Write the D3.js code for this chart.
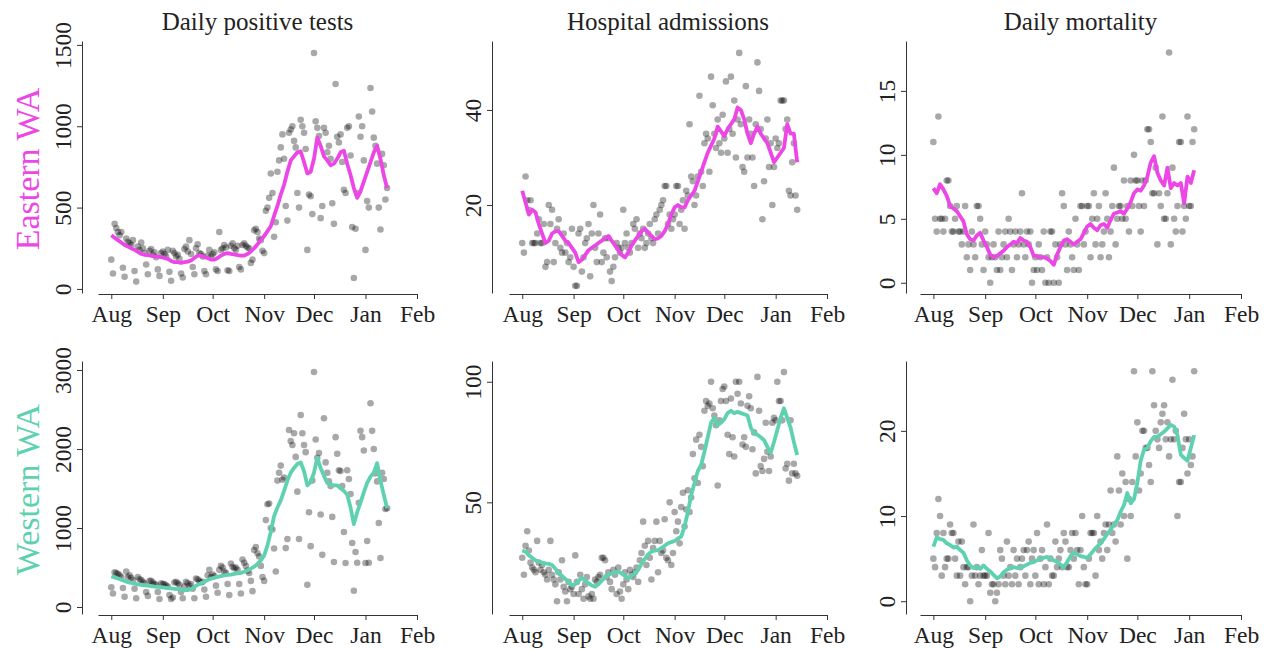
<!doctype html>
<head>
  <meta charset="utf-8">
  <script src="https://cdnjs.cloudflare.com/ajax/libs/d3/7.8.2/d3.min.js"></script>
</head>
<style>
    body { margin: 0; background: white; }
</style>
<body>
<div id="chart"></div>
<script>
    // Datos: un valor diario desde el 1 de agosto de 2020
    const eastTests = [
        180, 95, 400, 375, 350, 330, 350, 130, 75, 310, 290, 280, 270, 300, 110, 45, 260, 240, 285, 250, 220, 150, 90, 235, 245, 210, 225, 195, 120, 80, 220,
        230, 215, 200, 240, 105, 50, 235, 220, 200, 210, 185, 95, 70, 245, 260, 230, 300, 215, 135, 90, 250, 275, 220, 215, 200, 110, 90, 205, 240, 200,
        215, 225, 120, 110, 350, 240, 250, 270, 255, 115, 110, 265, 280, 250, 240, 265, 135, 120, 270, 280, 265, 255, 250, 160, 180, 360, 370, 350, 310, 300, 235,
        220, 480, 500, 560, 710, 590, 320, 410, 720, 790, 870, 950, 800, 510, 420, 960, 980, 1000, 910, 870, 590, 500, 1040, 1000, 960, 860, 240, 580, 570, 460,
        1450, 1030, 990, 940, 435, 510, 990, 960, 840, 880, 800, 527, 400, 1260, 935, 900, 950, 780, 610, 590, 990, 1000, 820, 380, 67, 370, 590, 1060, 935, 1000, 790,
        240, 540, 500, 1235, 1090, 930, 880, 770, 500, 365, 830, 760, 550, 620
    ];
    const eastAdmits = [
        12, 10, 26, 21, 19, 21, 12, 12, 12, 14, 17, 12, 12, 16, 7, 8, 20, 16, 19, 8, 12, 15, 17, 11, 10, 14, 10, 12, 8, 9, 15,
        7, 3, 3, 14, 15, 6, 9, 12, 13, 16, 5, 14, 20, 11, 8, 14, 18, 8, 10, 13, 9, 13, 6, 4, 7, 9, 12, 11, 10, 11,
        19, 12, 14, 11, 10, 12, 16, 15, 17, 11, 14, 13, 15, 11, 12, 14, 16, 13, 12, 17, 18, 14, 19, 20, 21, 24, 24, 16, 18, 15, 17,
        18, 24, 24, 16, 19, 21, 15, 23, 22, 37, 26, 25, 20, 22, 26, 43, 27, 24, 33, 35, 34, 27, 47, 41, 35, 32, 38, 33, 31, 39,
        34, 46, 31, 36, 47, 35, 42, 30, 38, 52, 37, 28, 27, 45, 30, 38, 35, 30, 24, 37, 50, 44, 36, 17, 25, 34, 38, 28, 33, 20, 28,
        34, 32, 33, 42, 42, 42, 36, 38, 23, 22, 29, 33, 22, 19
    ];
    const eastDeaths = [
        11, 5, 4, 13, 5, 5, 4, 5, 8, 8, 6, 4, 4, 5, 6, 4, 4, 3, 4, 6, 2, 3, 1, 4, 3, 2, 6, 6, 5, 3, 1,
        4, 3, 2, 0, 2, 3, 2, 1, 4, 1, 2, 3, 4, 2, 5, 4, 1, 3, 4, 2, 3, 4, 7, 3, 2, 4, 3, 4, 0, 1,
        2, 1, 3, 2, 1, 4, 0, 2, 0, 4, 4, 0, 3, 2, 0, 3, 7, 6, 3, 1, 4, 3, 2, 1, 5, 3, 1, 6, 6, 3, 4,
        6, 6, 2, 5, 7, 3, 5, 6, 2, 3, 4, 7, 5, 2, 4, 6, 9, 3, 5, 6, 6, 5, 8, 5, 6, 4, 8, 6, 10, 8,
        8, 6, 4, 8, 6, 8, 12, 12, 11, 7, 7, 9, 3, 7, 6, 13, 5, 5, 7, 18, 3, 9, 5, 4, 6, 11, 11, 4, 6, 5, 13,
        6, 6, 11, 12
    ];
    const westTests = [
        250, 170, 440, 430, 420, 400, 380, 240, 130, 450, 380, 400, 370, 340, 230, 110, 380, 350, 340, 320, 300, 190, 140, 330, 330, 310, 290, 280, 190, 100, 300,
        290, 290, 270, 260, 150, 100, 120, 310, 320, 300, 280, 190, 110, 260, 320, 300, 270, 290, 230, 110, 360, 350, 330, 310, 320, 220, 130, 400, 470, 380,
        410, 390, 270, 180, 470, 520, 500, 450, 430, 290, 150, 550, 510, 490, 500, 470, 290, 170, 600, 560, 520, 460, 430, 330, 200, 720, 760, 680, 640, 520, 380,
        330, 1100, 1300, 1310, 1000, 980, 740, 450, 1600, 1700, 1790, 1610, 1640, 745, 860, 2240, 2100, 2050, 2200, 1900, 1460, 860, 2430, 2200, 2050, 1960, 280, 1200, 770, 1600,
        2975, 2120, 1890, 1950, 1170, 660, 2390, 1830, 1700, 1590, 1530, 1140, 570, 2150, 1940, 1730, 1720, 1530, 950, 557, 1730, 1620, 1430, 810, 205, 696, 560, 1320, 2230, 2150, 1980,
        557, 835, 560, 2580, 2230, 2000, 1690, 1590, 1063, 620, 1700, 1620, 1240, 1250
    ];
    const westAdmits = [
        27, 20, 32, 38, 30, 25, 23, 22, 21, 34, 25, 22, 24, 21, 20, 18, 22, 34, 20, 18, 16, 9, 21, 18, 26, 15, 13, 9, 17, 14, 15,
        12, 28, 17, 12, 20, 14, 10, 16, 19, 11, 10, 12, 10, 18, 17, 19, 20, 27, 27, 26, 19, 21, 17, 14, 22, 20, 12, 23, 13, 10,
        16, 21, 18, 14, 22, 20, 19, 21, 23, 17, 26, 29, 42, 32, 24, 34, 27, 18, 31, 34, 42, 21, 34, 29, 30, 43, 27, 26, 50, 24, 29,
        46, 38, 42, 33, 48, 54, 40, 47, 55, 46, 52, 70, 60, 76, 58, 78, 73, 65, 88, 92, 90, 91, 100, 89, 86, 82, 57, 84, 92, 97,
        98, 92, 78, 70, 93, 77, 69, 100, 95, 100, 91, 74, 77, 73, 90, 94, 89, 72, 79, 62, 102, 88, 65, 63, 68, 83, 71, 63, 69, 83, 85,
        84, 100, 92, 92, 84, 104, 64, 66, 59, 84, 62, 66, 62, 61
    ];
    const westDeaths = [
        5, 4, 8, 12, 10, 3, 8, 4, 5, 5, 9, 8, 8, 5, 3, 7, 3, 7, 4, 2, 4, 4, 0, 3, 9, 3, 4, 2, 3, 6, 3,
        3, 3, 8, 1, 2, 2, 0, 1, 2, 6, 5, 3, 2, 7, 3, 4, 2, 6, 3, 5, 2, 4, 5, 6, 3, 6, 7, 2, 5, 6,
        3, 8, 2, 5, 6, 2, 4, 9, 2, 5, 3, 3, 7, 4, 5, 6, 4, 8, 7, 4, 4, 6, 8, 5, 8, 6, 2, 6, 10, 4, 2,
        2, 5, 8, 8, 8, 3, 10, 6, 7, 5, 8, 9, 6, 9, 13, 8, 9, 7, 17, 13, 9, 15, 10, 14, 5, 12, 10, 14, 27, 17,
        21, 13, 15, 20, 20, 18, 18, 16, 14, 27, 23, 20, 19, 18, 21, 22, 23, 19, 21, 17, 19, 26, 19, 20, 10, 14, 14, 18, 22, 19, 15,
        19, 16, 17, 27
    ];

    // Medias móviles: un valor cada dos días desde el 1 de agosto
    const eastTestsAvg = [330, 315, 300, 285, 270, 260, 250, 240, 228, 215, 210, 208, 205, 200, 198, 195, 190, 185, 172, 165, 165, 160, 165, 168, 175, 190, 205, 205, 195, 190, 180, 180, 190, 205, 215, 220, 215, 212, 208, 205, 205, 215, 230, 250, 275, 300, 325, 355, 385, 450, 510, 580, 640, 720, 790, 815, 840, 845, 780, 710, 720, 800, 930, 880, 815, 790, 760, 770, 800, 840, 850, 770, 700, 620, 560, 600, 660, 720, 780, 840, 880, 800, 700, 620];
    const eastAdmitsAvg = [23, 20.5, 18, 19, 18.5, 16, 14, 12, 12.5, 14, 14.5, 14.5, 13.5, 12.5, 12, 11, 10, 8, 8.5, 9.5, 10.5, 11, 11.5, 12, 12.5, 13, 13.5, 12.5, 11.5, 10.5, 9.5, 9, 10, 11.5, 12.5, 13.5, 14.5, 15, 14.2, 13.5, 12.8, 13, 13.5, 14.5, 16, 18, 19.5, 20, 19.5, 19.5, 21, 22, 23, 25, 27, 29, 31, 32.5, 34, 36.5, 35.5, 34.5, 36, 37, 38, 40.5, 40, 38, 35, 33, 35, 36.5, 35, 34, 33, 31, 29, 30, 31, 32, 37, 35, 35, 29];
    const eastDeathsAvg = [7.4, 7, 7.7, 7.3, 6.8, 6, 5.8, 5.6, 5.2, 4.8, 3.8, 3.4, 3.3, 3.7, 3.9, 3.3, 2.8, 2.2, 2, 2.1, 2.3, 2.5, 2.8, 3, 3.2, 3.1, 3.5, 3.3, 3.2, 2.8, 2.1, 2.1, 2, 2, 1.9, 1.7, 1.4, 2.2, 2.8, 3.3, 3.4, 3.2, 3, 3.2, 3.4, 3.9, 4.4, 4.6, 4.3, 4.1, 4.5, 4.6, 4.3, 4.9, 5.4, 5.5, 5.6, 5.4, 5.8, 6.3, 7, 7.3, 7.2, 7.6, 8.3, 9.4, 9.9, 8.6, 8, 7.6, 9, 7.4, 7.8, 7.6, 7.8, 6.2, 8.3, 7.8, 8.8];
    const westTestsAvg = [390, 375, 360, 345, 330, 315, 305, 295, 285, 280, 275, 270, 265, 258, 255, 250, 245, 240, 235, 230, 225, 220, 215, 212, 225, 255, 280, 300, 320, 340, 360, 370, 380, 390, 400, 405, 410, 420, 425, 430, 445, 465, 485, 510, 545, 590, 650, 780, 950, 1150, 1260, 1350, 1470, 1600, 1700, 1760, 1810, 1830, 1720, 1540, 1580, 1700, 1890, 1760, 1660, 1570, 1550, 1540, 1540, 1500, 1470, 1420, 1260, 1050, 1200, 1320, 1450, 1570, 1650, 1700, 1820, 1600, 1420, 1250];
    const westAdmitsAvg = [30, 29.5, 28, 27, 26, 25.5, 25, 24.7, 24.5, 24, 22.5, 20.5, 19.5, 18.2, 17, 15.5, 16, 17.5, 18.6, 17.5, 16.5, 15.5, 15, 16, 17.5, 19, 20, 20.5, 21, 21.3, 20.5, 19.5, 18.6, 19.5, 20.5, 22, 24.5, 26.5, 28.5, 29.5, 30, 30.2, 31, 32, 33, 33.5, 34, 35, 35.8, 40, 46, 53, 58, 63, 65.5, 71, 77, 83, 85, 82, 83, 84.5, 87, 88, 87, 87.5, 87, 86.5, 86, 81, 78.5, 78, 77, 75.8, 73, 70.5, 75, 80, 85, 89, 85, 81, 75, 69.6];
    const westDeathsAvg = [6.4, 7.5, 7.3, 7.2, 6.8, 6.6, 6.3, 6.4, 6, 5.7, 4.8, 4.2, 3.9, 4, 3.8, 4.2, 3.8, 3.5, 3.1, 2.7, 2.9, 3.4, 3.7, 3.9, 4, 3.9, 4, 4.1, 4.3, 4.5, 4.6, 4.8, 5, 5.1, 5.2, 5, 4.8, 4.6, 4.3, 4, 4.6, 5.3, 5.7, 5.5, 5.3, 5.2, 5.1, 5.5, 6, 6.4, 6.8, 7.3, 7.9, 8.4, 9, 9.5, 10.5, 11.3, 12.7, 11.5, 12, 13.9, 16.5, 17.8, 18, 18.8, 19.3, 19.3, 19.6, 19.9, 20.3, 20.7, 20.5, 19.5, 17.2, 16.8, 16.5, 18, 19.5];

    // Textos y marcas de los ejes
    const titles = ["Daily positive tests", "Hospital admissions", "Daily mortality"];
    const regions = ["Eastern WA", "Western WA"];
    const regionColors = ["#ec46e6", "#5ed1b1"];
    const months = ["Aug", "Sep", "Oct", "Nov", "Dec", "Jan", "Feb"];
    const yTicks = [
        [[0, 500, 1000, 1500], [20, 40], [0, 5, 10, 15]],
        [[0, 1000, 2000, 3000], [50, 100], [0, 10, 20]]
    ];
    const series = [
        [[eastTests, eastTestsAvg], [eastAdmits, eastAdmitsAvg], [eastDeaths, eastDeathsAvg]],
        [[westTests, westTestsAvg], [westAdmits, westAdmitsAvg], [westDeaths, westDeathsAvg]]
    ];

    // Posiciones de cada panel
    const font = '"Liberation Serif", "DejaVu Serif", serif';
    const cols = [
        {axisX: 82, x0: 98, x1: 417},
        {axisX: 492, x0: 509, x1: 827},
        {axisX: 906, x0: 920, x1: 1241}
    ];
    const rows = [{top: 41, bottom: 293}, {top: 361, bottom: 614}];
    const yDomains = [
        [[-25, 1524], [1.5, 54.5], [-0.8, 18.9]],
        [[-89, 3114], [3.7, 108.6], [-1.5, 28.2]]
    ];

    const day = (i) => new Date(2020, 7, 1 + i);
    const monthDates = months.map((m, i) => new Date(2020, 7 + i, 1));

    const svg = d3.select('#chart')
        .append('svg')
        .attr('width', 1270)
        .attr('height', 649)
        .style('font-family', font);

    rows.forEach((row, r) => {
        cols.forEach((col, c) => {
            const [dots, avg] = series[r][c];

            const x = d3.scaleTime()
                .domain([new Date(2020, 6, 24), new Date(2021, 1, 1)])
                .range([col.x0, col.x1]);
            const y = d3.scaleLinear()
                .domain(yDomains[r][c])
                .range([row.bottom, row.top]);

            const g = svg.append('g');

            // Eje X
            const xAxis = g.append('g')
                .attr('transform', `translate(0,${row.bottom + 1})`)
                .call(d3.axisBottom(x)
                    .tickValues(monthDates)
                    .tickFormat((d, i) => months[i])
                    .tickSize(5)
                    .tickSizeOuter(0)
                    .tickPadding(6));

            // Eje Y con etiquetas giradas
            const yAxis = g.append('g')
                .attr('transform', `translate(${col.axisX},0)`)
                .call(d3.axisLeft(y)
                    .tickValues(yTicks[r][c])
                    .tickFormat(d3.format('d'))
                    .tickSize(5)
                    .tickSizeOuter(0));
            yAxis.selectAll('text')
                .attr('x', 0)
                .attr('y', -11)
                .attr('dy', null)
                .attr('transform', 'rotate(-90)')
                .attr('text-anchor', 'middle');

            [xAxis, yAxis].forEach((a) => {
                a.attr('font-family', font).attr('font-size', 23.5);
                a.selectAll('text').attr('fill', '#222');
                a.selectAll('.domain, .tick line').attr('stroke', '#333');
            });

            // Puntos diarios
            g.selectAll('.dot')
                .data(dots)
                .enter()
                .append('circle')
                .attr('cx', (d, i) => x(day(i)))
                .attr('cy', (d) => y(d))
                .attr('r', 3.3)
                .attr('fill', '#000')
                .attr('fill-opacity', 0.34);

            // Media móvil
            g.append('path')
                .datum(avg)
                .attr('d', d3.line()
                    .x((d, i) => x(day(i * 2)))
                    .y((d) => y(d)))
                .attr('fill', 'none')
                .attr('stroke', regionColors[r])
                .attr('stroke-width', 3.8)
                .attr('stroke-linejoin', 'round');

            if (r === 0) {
                svg.append('text')
                    .attr('x', (col.x0 + col.x1) / 2)
                    .attr('y', 30)
                    .attr('text-anchor', 'middle')
                    .attr('fill', '#222')
                    .attr('font-family', font)
                    .attr('font-size', 25)
                    .text(titles[c]);
            }
        });

        svg.append('text')
            .attr('transform', `translate(39,${(row.top + row.bottom) / 2 + 2}) rotate(-90)`)
            .attr('text-anchor', 'middle')
            .attr('fill', regionColors[r])
            .attr('font-family', font)
            .attr('font-size', 34)
            .text(regions[r]);
    });
</script>
</body>
